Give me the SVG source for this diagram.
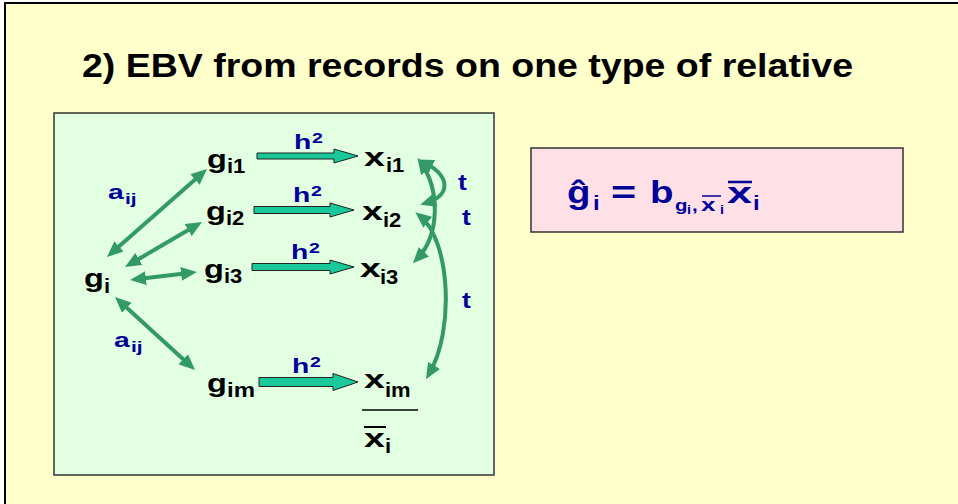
<svg xmlns="http://www.w3.org/2000/svg" width="958" height="504" viewBox="0 0 958 504">
<defs>
<style>
text{font-family:"Liberation Sans",Arial,sans-serif;font-weight:bold}
.k{fill:#000}
.b{fill:#000099}
.big{font-size:25px}
.sub{font-size:20px}
.lbl{font-size:21px}
.rel{stroke:#339966;stroke-width:4;fill:none;marker-start:url(#hd);marker-end:url(#hd)}
.blk{fill:#19C99A;stroke:#222;stroke-width:1}
</style>
<marker id="hd" viewBox="0 0 16 14" markerWidth="16" markerHeight="14" refX="10" refY="7" orient="auto-start-reverse" markerUnits="userSpaceOnUse">
<path d="M0,0 L16,7 L0,14 z" fill="#339966"/>
</marker>
</defs>
<rect x="0" y="0" width="958" height="504" fill="#fff"/>
<rect x="5" y="3" width="1000" height="1000" fill="#FFFFCC" stroke="#000" stroke-width="2"/>
<text x="82" y="77" font-size="33" textLength="771" lengthAdjust="spacingAndGlyphs" class="k">2) EBV from records on one type of relative</text>
<rect id="panel" x="54" y="113" width="440" height="362" fill="#E2FFE2" stroke="#333" stroke-width="1.5"/>

<g id="connectors">
<path class="blk" d="M257,153 H334 V149 L358,156 L334,163 V159 H257 z"/>
<path class="blk" d="M254,206.5 H330 V203 L354,210 L330,217 V213.5 H254 z"/>
<path class="blk" d="M252,263.5 H330 V260 L354,267 L330,274 V270.5 H252 z"/>
<path class="blk" d="M259,377.5 H333 V373.5 L358,382 L333,390.5 V386.5 H259 z"/>
<path class="rel" d="M111.5,253 L202.5,173"/>
<path class="rel" d="M130.2,264 L196.8,225"/>
<path class="rel" d="M136,279.3 L191,272.7"/>
<path class="rel" d="M119.4,301 L190.6,366"/>
<path class="rel" d="M423,162 C450,175 452,195 426,203"/>
<path class="rel" d="M421,163 C440,190 440,235 417,259"/>
<path class="rel" d="M420,216 C450,240 455,330 429,374"/>
</g>

<g id="labels">
<g transform="translate(294,149)"><text class="b lbl" transform="scale(1.35,1)">h</text><text class="b" font-size="14" transform="translate(18,-6) scale(1.4,1)">2</text></g>
<g transform="translate(293,202)"><text class="b lbl" transform="scale(1.35,1)">h</text><text class="b" font-size="14" transform="translate(18,-6) scale(1.4,1)">2</text></g>
<g transform="translate(291,259)"><text class="b lbl" transform="scale(1.35,1)">h</text><text class="b" font-size="14" transform="translate(18,-6) scale(1.4,1)">2</text></g>
<g transform="translate(292,373)"><text class="b lbl" transform="scale(1.35,1)">h</text><text class="b" font-size="14" transform="translate(18,-6) scale(1.4,1)">2</text></g>
<text class="b" font-size="21" transform="translate(108,199) scale(1.35,1)">a</text>
<text class="b" font-size="15" transform="translate(125,204) scale(1.4,1)">ij</text>
<text class="b" font-size="21" transform="translate(114,347) scale(1.35,1)">a</text>
<text class="b" font-size="15" transform="translate(131,352) scale(1.4,1)">ij</text>
<text class="b" font-size="22" transform="translate(458,190) scale(1.2,1)">t</text>
<text class="b" font-size="22" transform="translate(462,225) scale(1.2,1)">t</text>
<text class="b" font-size="22" transform="translate(462,308) scale(1.2,1)">t</text>
</g>

<g id="g_i"><text class="k big" transform="translate(84,287) scale(1.3,1)">g</text><text class="k sub" transform="translate(104,293) scale(1.1,1)">i</text></g>
<g id="g_i1"><text class="k big" transform="translate(207,168) scale(1.3,1)">g</text><text class="k sub" transform="translate(227,173) scale(1.1,1)">i1</text></g>
<g id="g_i2"><text class="k big" transform="translate(206,220) scale(1.3,1)">g</text><text class="k sub" transform="translate(226,225) scale(1.1,1)">i2</text></g>
<g id="g_i3"><text class="k big" transform="translate(204,278) scale(1.3,1)">g</text><text class="k sub" transform="translate(224,283) scale(1.1,1)">i3</text></g>
<g id="g_im"><text class="k big" transform="translate(207,392) scale(1.3,1)">g</text><text class="k sub" transform="translate(227,397) scale(1.2,1)">im</text></g>

<g id="x_i1"><text class="k big" transform="translate(364,166) scale(1.5,1)">x</text><text class="k sub" transform="translate(386,172) scale(1.1,1)">i1</text></g>
<g id="x_i2"><text class="k big" transform="translate(362,220) scale(1.5,1)">x</text><text class="k sub" transform="translate(383,227) scale(1.1,1)">i2</text></g>
<g id="x_i3"><text class="k big" transform="translate(360,277) scale(1.5,1)">x</text><text class="k sub" transform="translate(380,284) scale(1.1,1)">i3</text></g>
<g id="x_im"><text class="k big" transform="translate(364,388) scale(1.5,1)">x</text><text class="k sub" transform="translate(385,397) scale(1.1,1)">im</text></g>

<g id="mean">
<line x1="362" y1="410" x2="418" y2="410" stroke="#000" stroke-width="1.5"/>
<line x1="364" y1="427" x2="386" y2="427" stroke="#000" stroke-width="2"/>
<text class="k big" transform="translate(364,447) scale(1.5,1)">x</text>
<text class="k sub" transform="translate(385,453) scale(1.1,1)">i</text>
</g>

<g id="formula">
<rect x="531" y="148" width="372" height="84" fill="#FFE0E6" stroke="#333" stroke-width="1.5"/>
<text class="b" font-size="32" transform="translate(567,203) scale(1.2,1)">ĝ</text>
<text class="b" font-size="20" transform="translate(593,210) scale(1.2,1)">i</text>
<text class="b" font-size="32" transform="translate(611,203) scale(1.35,1)">=</text>
<text class="b" font-size="32" transform="translate(650,203) scale(1.2,1)">b</text>
<text class="b" font-size="17" transform="translate(675,211) scale(1.2,1)">g</text>
<text class="b" font-size="12" transform="translate(687,214) scale(1.2,1)">i</text>
<text class="b" font-size="17" transform="translate(692,211) scale(1.2,1)">,</text>
<line x1="702" y1="196" x2="721" y2="196" stroke="#000099" stroke-width="1.5"/>
<text class="b" font-size="18" transform="translate(701,211) scale(1.45,1)">x</text>
<text class="b" font-size="12" transform="translate(720,214) scale(1.2,1)">i</text>
<line x1="728" y1="182" x2="752" y2="182" stroke="#000099" stroke-width="2.5"/>
<text class="b" font-size="30" transform="translate(727,203) scale(1.5,1)">x</text>
<text class="b" font-size="20" transform="translate(753,210) scale(1.2,1)">i</text>
</g>
</svg>
